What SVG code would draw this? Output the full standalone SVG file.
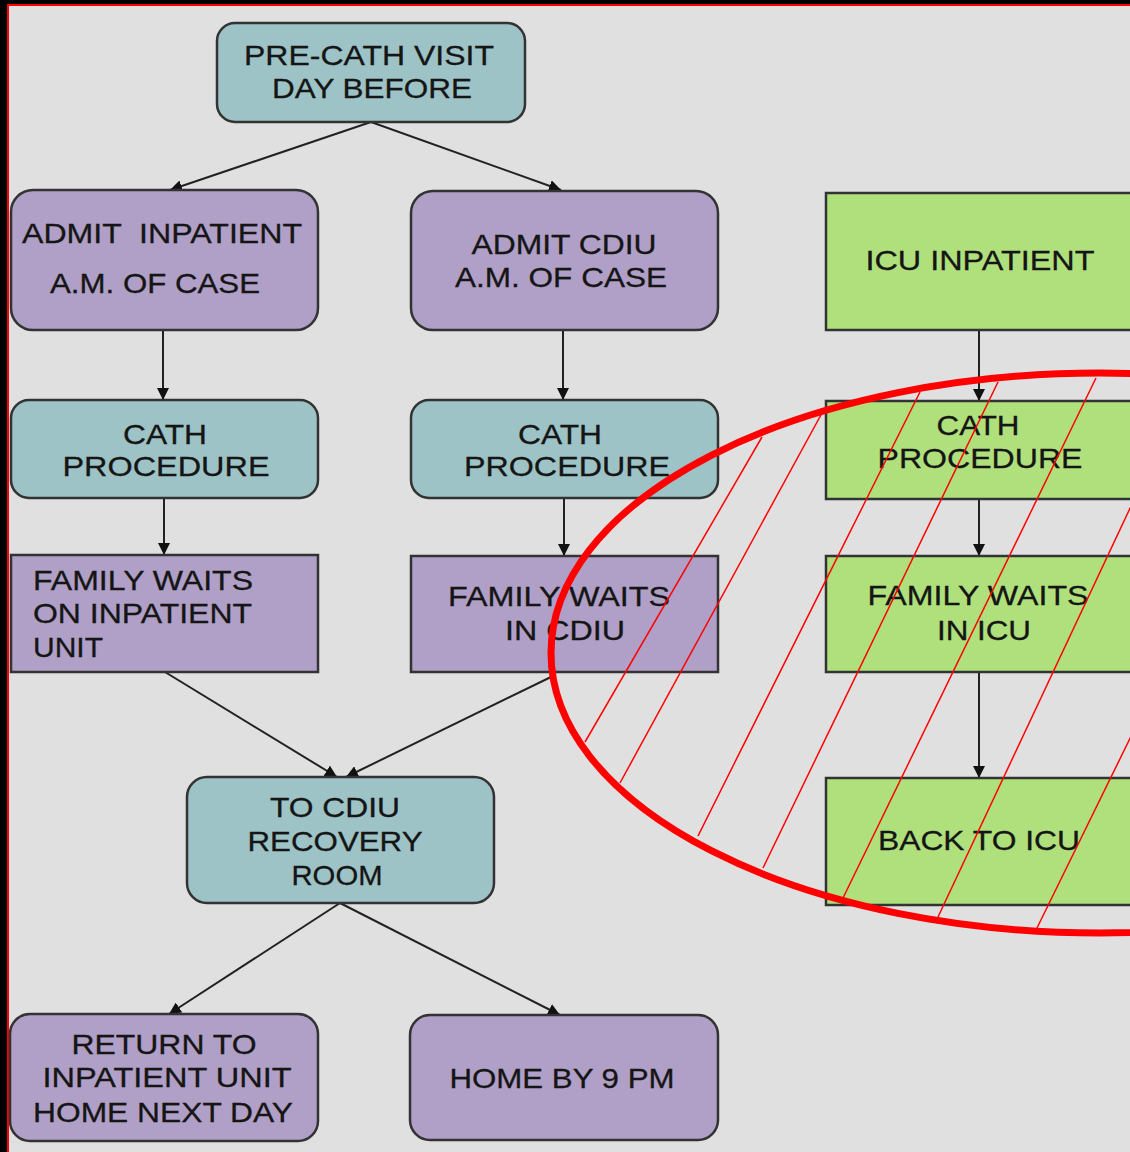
<svg xmlns="http://www.w3.org/2000/svg" width="1130" height="1152" viewBox="0 0 1130 1152">
<defs>
<style>
.teal{fill:#9dc3c6;stroke:#333;stroke-width:2.5}
.purple{fill:#b09fc6;stroke:#333;stroke-width:2.5}
.green{fill:#b0e07c;stroke:#333;stroke-width:2.5}
text{font-family:"Liberation Sans",Arial,sans-serif;font-size:28px;fill:#151515;stroke:#151515;stroke-width:0.3}
.c{text-anchor:middle}
.conn{stroke:#222;stroke-width:2;fill:none;marker-end:url(#ah)}
.hatch{stroke:#ff0000;stroke-width:1.5;fill:none}
</style>
<marker id="ah" markerUnits="userSpaceOnUse" markerWidth="14" markerHeight="12" refX="12" refY="6" orient="auto">
<path d="M0,0 L12,6 L0,12 Z" fill="#111"/>
</marker>
</defs>
<rect x="0" y="0" width="1130" height="1152" fill="#e0e0e0"/>
<rect x="0" y="0" width="8" height="1152" fill="#000"/>
<rect x="0" y="0" width="1130" height="4" fill="#000"/>
<line x1="8" y1="4" x2="8" y2="1152" stroke="#ff0000" stroke-width="2"/>
<line x1="7" y1="5" x2="1130" y2="5" stroke="#ff0000" stroke-width="2"/>

<g id="connectors">
<line class="conn" x1="371" y1="122" x2="170" y2="190"/>
<line class="conn" x1="371" y1="122" x2="561" y2="190"/>
<line class="conn" x1="163" y1="330" x2="163" y2="400"/>
<line class="conn" x1="563" y1="330" x2="563" y2="400"/>
<line class="conn" x1="164" y1="498" x2="164" y2="555"/>
<line class="conn" x1="564" y1="498" x2="564" y2="556"/>
<line class="conn" x1="979" y1="330" x2="979" y2="401"/>
<line class="conn" x1="979" y1="499" x2="979" y2="556"/>
<line class="conn" x1="979" y1="672" x2="979" y2="778"/>
<line class="conn" x1="165" y1="672" x2="337" y2="777"/>
<line class="conn" x1="553" y1="676" x2="346" y2="777"/>
<line class="conn" x1="340" y1="903" x2="169" y2="1014"/>
<line class="conn" x1="340" y1="903" x2="560" y2="1015"/>
</g>

<g id="n1">
<rect class="teal" x="217" y="23" width="308" height="99" rx="18"/>
<text class="c" x="369" y="65" textLength="250" lengthAdjust="spacingAndGlyphs">PRE-CATH VISIT</text>
<text class="c" x="372" y="98" textLength="200" lengthAdjust="spacingAndGlyphs">DAY BEFORE</text>
</g>
<g id="n2">
<rect class="purple" x="11" y="190" width="307" height="140" rx="22"/>
<text class="c" x="162" y="243" textLength="280" lengthAdjust="spacingAndGlyphs" xml:space="preserve">ADMIT  INPATIENT</text>
<text class="c" x="155" y="293" textLength="210" lengthAdjust="spacingAndGlyphs">A.M. OF CASE</text>
</g>
<g id="n3">
<rect class="purple" x="411" y="191" width="307" height="139" rx="22"/>
<text class="c" x="564" y="254" textLength="185" lengthAdjust="spacingAndGlyphs">ADMIT CDIU</text>
<text class="c" x="561" y="287" textLength="212" lengthAdjust="spacingAndGlyphs">A.M. OF CASE</text>
</g>
<g id="n4">
<rect class="teal" x="11" y="400" width="307" height="98" rx="18"/>
<text class="c" x="165" y="444" textLength="84" lengthAdjust="spacingAndGlyphs">CATH</text>
<text class="c" x="166" y="476" textLength="207" lengthAdjust="spacingAndGlyphs">PROCEDURE</text>
</g>
<g id="n5">
<rect class="teal" x="411" y="400" width="307" height="98" rx="18"/>
<text class="c" x="560" y="444" textLength="84" lengthAdjust="spacingAndGlyphs">CATH</text>
<text class="c" x="567" y="476" textLength="206" lengthAdjust="spacingAndGlyphs">PROCEDURE</text>
</g>
<g id="n6">
<rect class="green" x="826" y="193" width="320" height="137"/>
<text class="c" x="980" y="270" textLength="229" lengthAdjust="spacingAndGlyphs">ICU INPATIENT</text>
</g>
<g id="n7">
<rect class="green" x="826" y="401" width="320" height="98"/>
<text class="c" x="978" y="435" textLength="83" lengthAdjust="spacingAndGlyphs">CATH</text>
<text class="c" x="980" y="468" textLength="205" lengthAdjust="spacingAndGlyphs">PROCEDURE</text>
</g>
<g id="n8">
<rect class="purple" x="11" y="555" width="307" height="117"/>
<text x="33" y="590" textLength="220" lengthAdjust="spacingAndGlyphs">FAMILY WAITS</text>
<text x="33" y="623" textLength="219" lengthAdjust="spacingAndGlyphs">ON INPATIENT</text>
<text x="33" y="657" textLength="70" lengthAdjust="spacingAndGlyphs">UNIT</text>
</g>
<g id="n9">
<rect class="purple" x="411" y="556" width="307" height="116"/>
<text class="c" x="559" y="606" textLength="222" lengthAdjust="spacingAndGlyphs">FAMILY WAITS</text>
<text class="c" x="565" y="640" textLength="120" lengthAdjust="spacingAndGlyphs">IN CDIU</text>
</g>
<g id="n10">
<rect class="green" x="826" y="556" width="320" height="116"/>
<text class="c" x="978" y="605" textLength="221" lengthAdjust="spacingAndGlyphs">FAMILY WAITS</text>
<text class="c" x="984" y="640" textLength="94" lengthAdjust="spacingAndGlyphs">IN ICU</text>
</g>
<g id="n11">
<rect class="teal" x="187" y="777" width="307" height="126" rx="20"/>
<text class="c" x="335" y="817" textLength="130" lengthAdjust="spacingAndGlyphs">TO CDIU</text>
<text class="c" x="335" y="851" textLength="175" lengthAdjust="spacingAndGlyphs">RECOVERY</text>
<text class="c" x="337" y="885" textLength="91" lengthAdjust="spacingAndGlyphs">ROOM</text>
</g>
<g id="n12">
<rect class="green" x="826" y="778" width="320" height="127"/>
<text class="c" x="979" y="850" textLength="202" lengthAdjust="spacingAndGlyphs">BACK TO ICU</text>
</g>
<g id="n13">
<rect class="purple" x="10" y="1014" width="308" height="127" rx="20"/>
<text class="c" x="164" y="1054" textLength="185" lengthAdjust="spacingAndGlyphs">RETURN TO</text>
<text class="c" x="167" y="1087" textLength="249" lengthAdjust="spacingAndGlyphs">INPATIENT UNIT</text>
<text class="c" x="163" y="1122" textLength="260" lengthAdjust="spacingAndGlyphs">HOME NEXT DAY</text>
</g>
<g id="n14">
<rect class="purple" x="410" y="1015" width="308" height="125" rx="20"/>
<text class="c" x="562" y="1088" textLength="225" lengthAdjust="spacingAndGlyphs">HOME BY 9 PM</text>
</g>

<g id="highlight">
<ellipse cx="1100" cy="653" rx="549" ry="280" fill="none" stroke="#ff0000" stroke-width="7"/>
<line class="hatch" x1="762" y1="437" x2="585" y2="742"/>
<line class="hatch" x1="822" y1="413" x2="620" y2="783"/>
<line class="hatch" x1="920" y1="392" x2="698" y2="836"/>
<line class="hatch" x1="998" y1="382" x2="763" y2="868"/>
<line class="hatch" x1="1096" y1="378" x2="843" y2="898"/>
<line class="hatch" x1="1140" y1="487" x2="938" y2="917"/>
<line class="hatch" x1="1140" y1="718" x2="1037" y2="928"/>
</g>
</svg>
